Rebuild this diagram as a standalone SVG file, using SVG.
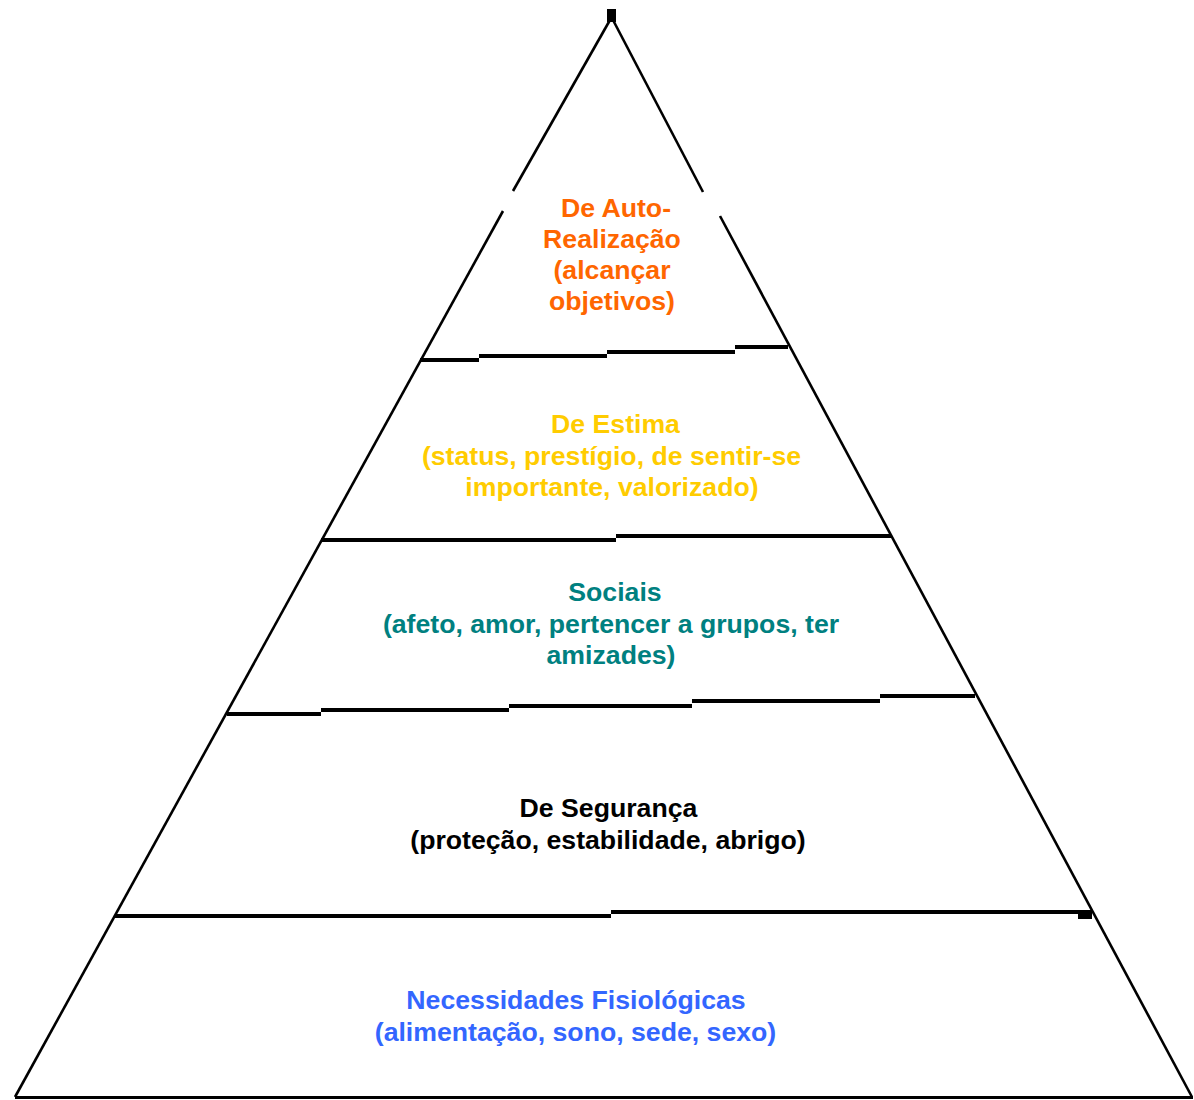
<svg xmlns="http://www.w3.org/2000/svg" width="1194" height="1100" viewBox="0 0 1194 1100">
<style>
.edge{stroke:#000;stroke-width:2.6;fill:none;stroke-linecap:butt}
.bar{fill:#000}
text{font-family:"Liberation Sans",Arial,sans-serif;font-weight:bold;font-size:26.67px;text-anchor:middle}
.o{fill:#FF6600}.y{fill:#FFCC00}.t{fill:#008080}.k{fill:#000}.b{fill:#3366FF}
</style>
<rect width="1194" height="1100" fill="#fff"/>
<g id="outline">
<rect class="bar" x="607" y="9" width="9" height="13"/>
<line class="edge" x1="610" y1="20" x2="513" y2="191"/>
<line class="edge" x1="503" y1="211" x2="15" y2="1097"/>
<line class="edge" x1="613" y1="20" x2="703" y2="192"/>
<line class="edge" x1="720" y1="216" x2="1192" y2="1097"/>
<rect class="bar" x="15" y="1096" width="1178" height="3"/>
</g>
<g id="connectors">
<g id="divider1">
<rect class="bar" x="420" y="358" width="59" height="4"/>
<rect class="bar" x="479" y="354" width="128" height="4"/>
<rect class="bar" x="607" y="350" width="128" height="4"/>
<rect class="bar" x="735" y="345" width="53" height="4"/>
</g>
<g id="divider2">
<rect class="bar" x="321" y="538" width="295" height="4"/>
<rect class="bar" x="616" y="534" width="275" height="4"/>
</g>
<g id="divider3">
<rect class="bar" x="227" y="712" width="94" height="4"/>
<rect class="bar" x="321" y="708" width="188" height="4"/>
<rect class="bar" x="509" y="704" width="183" height="4"/>
<rect class="bar" x="692" y="699" width="188" height="4"/>
<rect class="bar" x="880" y="694" width="95" height="4"/>
</g>
<g id="divider4">
<rect class="bar" x="115" y="914" width="496" height="4"/>
<rect class="bar" x="611" y="910" width="479" height="4"/>
<rect class="bar" x="1078" y="910" width="14" height="9"/>
</g>
</g>
<g id="tier-autorealizacao">
<text class="o" x="616" y="217">De Auto-</text>
<text class="o" x="612" y="248">Realização</text>
<text class="o" x="612" y="279">(alcançar</text>
<text class="o" x="612" y="310">objetivos)</text>
</g>
<g id="tier-estima">
<text class="y" x="615.5" y="433">De Estima</text>
<text class="y" x="611.5" y="465">(status, prestígio, de sentir-se</text>
<text class="y" x="612" y="496">importante, valorizado)</text>
</g>
<g id="tier-sociais">
<text class="t" x="615" y="601">Sociais</text>
<text class="t" x="611" y="633">(afeto, amor, pertencer a grupos, ter</text>
<text class="t" x="611" y="664">amizades)</text>
</g>
<g id="tier-seguranca">
<text class="k" x="608.5" y="817">De Segurança</text>
<text class="k" x="608" y="849">(proteção, estabilidade, abrigo)</text>
</g>
<g id="tier-fisiologicas">
<text class="b" x="576" y="1009">Necessidades Fisiológicas</text>
<text class="b" x="575.5" y="1041">(alimentação, sono, sede, sexo)</text>
</g>
</svg>
